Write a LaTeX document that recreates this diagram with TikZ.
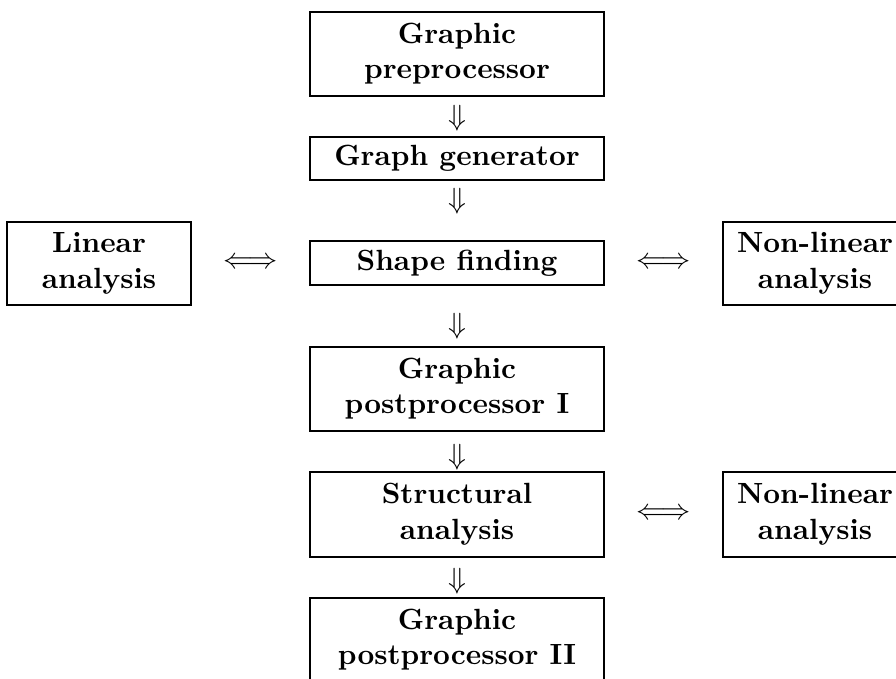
\documentclass[tikz,border=0pt]{standalone}
\usepackage{graphicx}
% box labels are set at 10pt and enlarged as a whole
\newcommand{\boxlabel}[1]{\scalebox{2.923}{\fontsize{10}{12}\selectfont\bfseries
  \begin{tabular}{@{}c@{}}#1\end{tabular}}}
\begin{document}
\begin{tikzpicture}[x=1pt,y=-1pt,
  box/.style={draw, line width=2pt, inner sep=0pt, align=center},
  wide/.style={box, minimum width=294pt},
  side/.style={box, minimum width=184pt},
  glyph/.style={inner sep=0pt, scale=2.923, transform shape}]
\useasboundingbox (0,0) rectangle (896,679);
\clip (0,0) rectangle (896,679);

% main column
\node[wide, minimum height=84pt] (pre)    at (457,54)    {\boxlabel{Graphic\\preprocessor}};
\node[wide, minimum height=43pt] (gen)    at (457,158.5) {\boxlabel{Graph generator}};
\node[wide, minimum height=44pt] (shape)  at (457,263)   {\boxlabel{Shape finding}};
\node[wide, minimum height=84pt] (postA)  at (457,389)   {\boxlabel{Graphic\\postprocessor I}};
\node[wide, minimum height=85pt] (struct) at (457,514.5) {\boxlabel{Structural\\analysis}};
\node[wide, minimum height=84pt] (postB)  at (457,640)   {\boxlabel{Graphic\\postprocessor II}};

% side boxes
\node[side, minimum height=83pt] (lin)  at (99,263.5)  {\boxlabel{Linear\\analysis}};
\node[side, minimum height=83pt] (nonA) at (815,263.5) {\boxlabel{Non-linear\\analysis}};
\node[side, minimum height=85pt] (nonB) at (815,514.5) {\boxlabel{Non-linear\\analysis}};

% flow arrows
\path (pre.south)    -- node[glyph, pos=0.54] {$\Downarrow$} (gen.north);
\path (gen.south)    -- node[glyph, pos=0.34] {$\Downarrow$} (shape.north);
\path (shape.south)  -- node[glyph, pos=0.67] {$\Downarrow$} (postA.north);
\path (postA.south)  -- node[glyph, pos=0.64] {$\Downarrow$} (struct.north);
\path (struct.south) -- node[glyph, pos=0.59] {$\Downarrow$} (postB.north);

% two-way links
\path (lin.east)    -- node[glyph] {$\Longleftrightarrow$} (shape.west);
\path (shape.east)  -- node[glyph] {$\Longleftrightarrow$} (nonA.west);
\path (struct.east) -- node[glyph] {$\Longleftrightarrow$} (nonB.west);
\end{tikzpicture}
\end{document}
